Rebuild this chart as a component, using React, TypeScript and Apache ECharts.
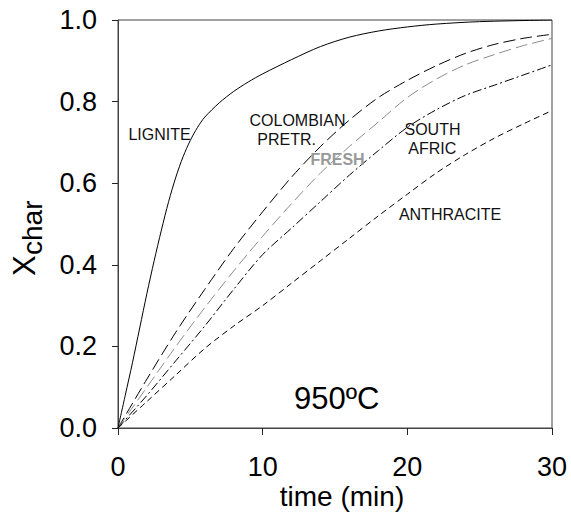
import React, { useEffect, useRef } from "react";
import * as echarts from "echarts";

const FONT = "'Liberation Sans', Arial, Helvetica, sans-serif";

// time (min) grid for lignite
const LIGNITE_T = [0, 0.5, 1, 1.5, 2, 2.5, 3, 3.5, 4, 4.5, 5, 5.5, 6, 7, 8, 9, 10, 12, 14, 16, 18, 20, 22, 25, 30];
const LIGNITE_X = [0, 0.08, 0.16, 0.245, 0.33, 0.41, 0.485, 0.555, 0.615, 0.665, 0.705, 0.737, 0.762, 0.797, 0.825, 0.848, 0.868, 0.903, 0.935, 0.958, 0.973, 0.983, 0.99, 0.996, 1.0];

// common time grid for the other chars
const TIME = [0, 2, 4, 6, 8, 10, 12, 14, 16, 18, 20, 22, 24, 26, 28, 30];
const COLOMBIAN_PRETR = [0, 0.12, 0.235, 0.34, 0.44, 0.53, 0.615, 0.69, 0.755, 0.81, 0.852, 0.888, 0.918, 0.94, 0.955, 0.965];
const COLOMBIAN_FRESH = [0, 0.1, 0.2, 0.295, 0.385, 0.47, 0.55, 0.625, 0.69, 0.75, 0.81, 0.855, 0.89, 0.915, 0.937, 0.955];
const SOUTH_AFRIC = [0, 0.08, 0.165, 0.25, 0.34, 0.425, 0.49, 0.555, 0.62, 0.68, 0.737, 0.78, 0.815, 0.84, 0.865, 0.89];
const ANTHRACITE = [0, 0.065, 0.13, 0.195, 0.25, 0.3, 0.355, 0.41, 0.465, 0.52, 0.573, 0.625, 0.67, 0.71, 0.745, 0.778];

const X_TICKS = [0, 10, 20, 30];
const Y_TICKS = [0, 0.2, 0.4, 0.6, 0.8, 1.0];

const pairs = (t: number[], v: number[]) => t.map((x, i) => [x, v[i]]);

export default function App() {
  const ref = useRef<HTMLDivElement>(null);
  useEffect(() => {
    if (!ref.current) return;
    const chart = echarts.init(ref.current, undefined, { renderer: "svg" });
    const lineSeries = (name: string, data: number[][], color: string, type: any) => ({
      name,
      type: "line",
      data,
      smooth: 0.3,
      showSymbol: false,
      symbol: "none",
      lineStyle: { color, width: 1, type },
      z: 3,
    });
    const label = (text: string, x: number, y: number, extra: any = {}) => ({
      type: "text",
      x,
      y,
      z: 10,
      style: {
        text,
        align: "center",
        verticalAlign: "middle",
        fontFamily: FONT,
        fontSize: 16,
        fill: "#111",
        ...extra,
      },
    });
    chart.setOption({
      animation: false,
      backgroundColor: "#fff",
      grid: {
        left: 118,
        right: 19,
        top: 20,
        bottom: 85,
        show: true,
        borderColor: "#444",
        borderWidth: 1,
        backgroundColor: "transparent",
      },
      xAxis: {
        type: "value",
        min: X_TICKS[0],
        max: X_TICKS[X_TICKS.length - 1],
        interval: 10,
        axisLine: { show: true, lineStyle: { color: "#444", width: 1 } },
        axisTick: { show: true, inside: false, length: 7, lineStyle: { color: "#222" } },
        axisLabel: { fontSize: 27, fontFamily: FONT, color: "#000", margin: 25 },
        splitLine: { show: false },
      },
      yAxis: {
        type: "value",
        min: Y_TICKS[0],
        max: Y_TICKS[Y_TICKS.length - 1],
        interval: 0.2,
        axisLine: { show: true, lineStyle: { color: "#444", width: 1 } },
        axisTick: { show: true, inside: false, length: 6, lineStyle: { color: "#222" } },
        axisLabel: {
          fontSize: 27,
          fontFamily: FONT,
          color: "#000",
          margin: 21,
          formatter: (v: number) => v.toFixed(1),
        },
        splitLine: { show: false },
      },
      series: [
        lineSeries("LIGNITE", pairs(LIGNITE_T, LIGNITE_X), "#000", "solid"),
        lineSeries("COLOMBIAN PRETR.", pairs(TIME, COLOMBIAN_PRETR), "#000", [12, 5]),
        lineSeries("FRESH", pairs(TIME, COLOMBIAN_FRESH), "#8c8c8c", [12, 5]),
        lineSeries("SOUTH AFRIC", pairs(TIME, SOUTH_AFRIC), "#000", [9, 3, 2, 3]),
        lineSeries("ANTHRACITE", pairs(TIME, ANTHRACITE), "#000", [6, 4]),
      ],
      graphic: [
        label("LIGNITE", 159.5, 134),
        label("COLOMBIAN", 297.5, 120),
        label("PRETR.", 286.7, 139),
        label("FRESH", 337.5, 159, { fill: "#999", fontWeight: "bold" }),
        label("SOUTH", 432.5, 129),
        label("AFRIC", 432.3, 148),
        label("ANTHRACITE", 450, 214),
        label("950ºC", 336.7, 398, { fontSize: 31, fill: "#000" }),
        {
          type: "text",
          x: 342,
          y: 496,
          style: {
            text: "time (min)",
            align: "center",
            verticalAlign: "middle",
            fontFamily: FONT,
            fontSize: 28,
            fill: "#000",
          },
        },
        {
          type: "text",
          x: 24,
          y: 276,
          rotation: Math.PI / 2,
          style: {
            text: "X",
            align: "left",
            verticalAlign: "middle",
            fontFamily: FONT,
            fontSize: 31,
            fill: "#000",
          },
        },
        {
          type: "text",
          x: 32,
          y: 255,
          rotation: Math.PI / 2,
          style: {
            text: "char",
            align: "left",
            verticalAlign: "middle",
            fontFamily: FONT,
            fontSize: 28,
            fill: "#000",
          },
        },
      ],
    });
    return () => chart.dispose();
  }, []);
  return (
    <div
      ref={ref}
      style={{ position: "absolute", left: 0, top: 0, width: 571, height: 513 }}
    />
  );
}
